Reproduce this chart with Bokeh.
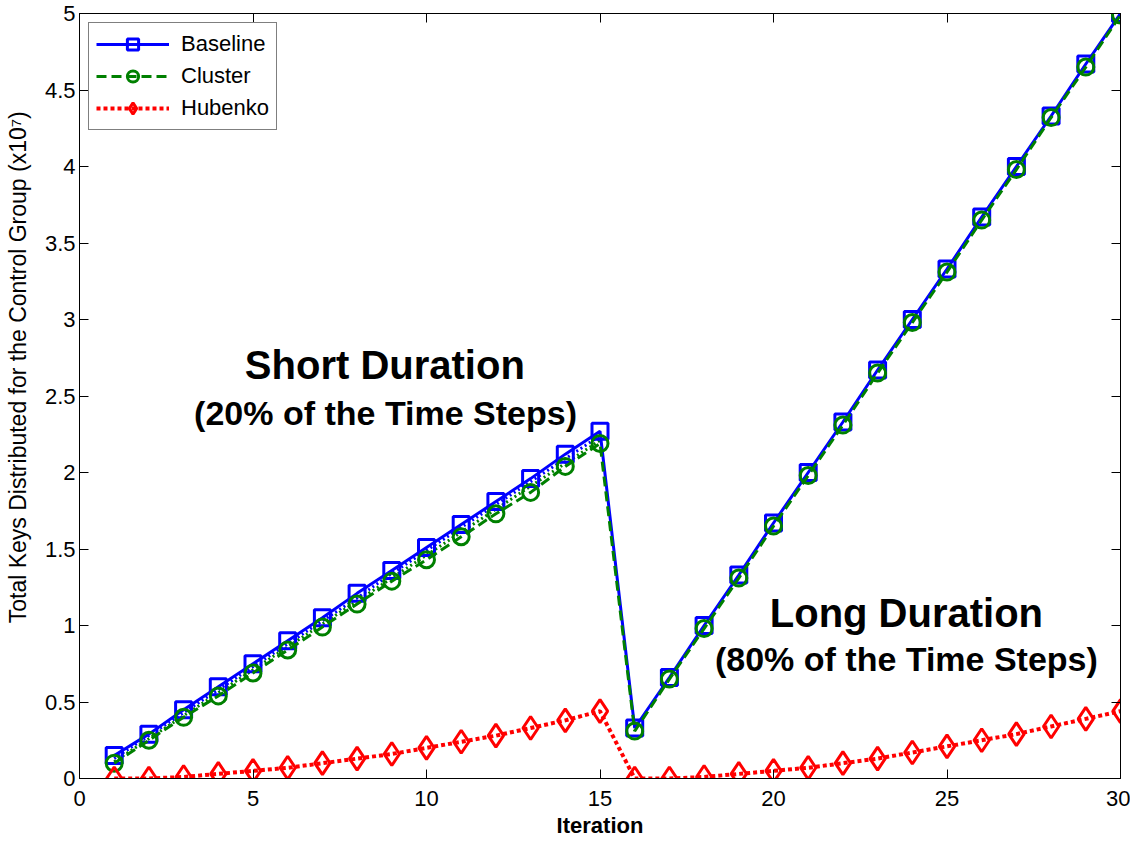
from bokeh.plotting import figure
from bokeh.models import LinearAxis, FixedTicker, Range1d, Label, Legend, LegendItem
from bokeh.embed import file_html
from bokeh.resources import INLINE

iterations = list(range(1, 31))
baseline = [0.15, 0.29, 0.45, 0.60, 0.75, 0.90, 1.05, 1.21, 1.36, 1.51, 1.66, 1.81, 1.96, 2.12, 2.27,
            0.33, 0.66, 1.00, 1.33, 1.67, 2.00, 2.33, 2.67, 3.00, 3.33, 3.67, 4.00, 4.33, 4.67, 5.00]
cluster = [0.10, 0.25, 0.40, 0.54, 0.69, 0.84, 0.99, 1.14, 1.29, 1.43, 1.58, 1.73, 1.87, 2.04, 2.19,
           0.31, 0.65, 0.98, 1.31, 1.65, 1.98, 2.31, 2.65, 2.98, 3.31, 3.65, 3.98, 4.32, 4.65, 4.99]
hubenko = [0.00, 0.00, 0.01, 0.03, 0.05, 0.07, 0.10, 0.13, 0.16, 0.20, 0.24, 0.28, 0.33, 0.38, 0.44,
           0.00, 0.00, 0.01, 0.03, 0.05, 0.07, 0.10, 0.13, 0.17, 0.21, 0.25, 0.29, 0.34, 0.39, 0.44]
# dotted companion traces visible in the short-duration part
short_iters = list(range(1, 16))
baseline_dotted = [0.13, 0.28, 0.43, 0.58, 0.73, 0.88, 1.03, 1.18, 1.34, 1.49, 1.64, 1.79, 1.94, 2.09, 2.24]
cluster_dotted = [0.11, 0.26, 0.41, 0.56, 0.71, 0.86, 1.01, 1.16, 1.31, 1.46, 1.61, 1.76, 1.91, 2.06, 2.21]

x_ticks = [0, 5, 10, 15, 20, 25, 30]
y_ticks = [0, 0.5, 1, 1.5, 2, 2.5, 3, 3.5, 4, 4.5, 5]
y_title = "Total Keys Distributed for the Control Group  (x10\u2077)"

FONT = "Liberation Sans"
BLUE = "#0000FF"
GREEN = "#008000"
RED = "#FF0000"

p = figure(frame_width=1041, frame_height=765, output_backend="svg", toolbar_location=None,
           x_range=Range1d(0, 30), y_range=Range1d(0, 5),
           min_border_left=79, min_border_right=10, min_border_top=13, min_border_bottom=63)
p.grid.visible = False
p.outline_line_color = "black"
p.outline_line_width = 1
p.background_fill_color = "white"
p.border_fill_color = "white"

for ax in (p.xaxis[0], p.yaxis[0]):
    ax.major_tick_in = 9
    ax.major_tick_out = 0
    ax.minor_tick_in = 0
    ax.minor_tick_out = 0
    ax.major_label_text_font = FONT
    ax.major_label_text_font_size = "22px"
    ax.major_label_text_color = "black"
    ax.axis_line_color = "black"
    ax.major_tick_line_color = "black"
    ax.axis_label_text_color = "black"
    ax.axis_label_text_font = FONT
p.xaxis[0].ticker = FixedTicker(ticks=x_ticks)
p.yaxis[0].ticker = FixedTicker(ticks=y_ticks)
p.xaxis[0].major_label_standoff = 12
p.yaxis[0].major_label_standoff = 4

p.xaxis[0].axis_label = "Iteration"
p.xaxis[0].axis_label_text_font_style = "bold"
p.xaxis[0].axis_label_text_font_size = "22px"
p.xaxis[0].axis_label_standoff = 4

# leading no-break spaces shift the centred title upward, as in the original
p.yaxis[0].axis_label = "\u00a0" * 10 + y_title
p.yaxis[0].axis_label_text_font_style = "normal"
p.yaxis[0].axis_label_text_font_size = "23px"
p.yaxis[0].axis_label_standoff = 11

top = LinearAxis(ticker=FixedTicker(ticks=x_ticks), major_label_text_font_size="0px",
                 major_tick_in=9, major_tick_out=0, minor_tick_in=0, minor_tick_out=0,
                 major_label_standoff=0)
right = LinearAxis(ticker=FixedTicker(ticks=y_ticks), major_label_text_font_size="0px",
                   major_tick_in=9, major_tick_out=0, minor_tick_in=0, minor_tick_out=0,
                   major_label_standoff=0)
p.add_layout(top, "above")
p.add_layout(right, "right")

# companion dotted traces
p.line(short_iters, baseline_dotted, line_color=BLUE, line_width=3, line_dash="2 3")
p.line(short_iters, cluster_dotted, line_color=GREEN, line_width=3, line_dash="2 3")

l1 = p.line(iterations, baseline, line_color=BLUE, line_width=3)
m1 = p.scatter(iterations, baseline, marker="square", size=16, line_color=BLUE, line_width=3,
               fill_color=None)
l2 = p.line(iterations, cluster, line_color=GREEN, line_width=3, line_dash="10 5")
m2 = p.scatter(iterations, cluster, marker="circle", size=16, line_color=GREEN, line_width=3,
               fill_color=None)
l3 = p.line(iterations, hubenko, line_color=RED, line_width=4, line_dash="4 3")
m3 = p.scatter(iterations, hubenko, marker="diamond", size=23, line_color=RED, line_width=3,
               fill_color=None)

legend = Legend(items=[LegendItem(label="Baseline", renderers=[l1, m1]),
                       LegendItem(label="Cluster", renderers=[l2, m2]),
                       LegendItem(label="Hubenko", renderers=[l3, m3])],
                location="top_left", border_line_color="black", border_line_width=1,
                background_fill_alpha=1, label_text_font=FONT, label_text_font_size="22px",
                label_text_color="black",
                glyph_width=73, glyph_height=28, spacing=4, padding=7, margin=9,
                label_standoff=12, label_height=28)
p.add_layout(legend)

for txt, x, y, sz in [("Short Duration", 8.8, 2.70, "40px"),
                      ("(20% of the Time Steps)", 8.82, 2.39, "34px"),
                      ("Long Duration", 23.83, 1.08, "40px"),
                      ("(80% of the Time Steps)", 23.83, 0.78, "34px")]:
    p.add_layout(Label(x=x, y=y, text=txt, text_font=FONT, text_font_style="bold",
                       text_font_size=sz, text_align="center", text_baseline="middle",
                       text_color="black"))

open("out.html", "w").write(file_html(p, INLINE))
